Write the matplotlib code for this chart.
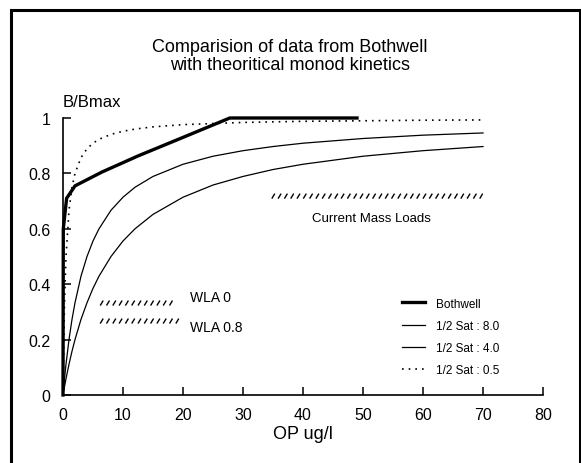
import matplotlib
matplotlib.use("Agg")
import matplotlib.pyplot as plt
from matplotlib.patches import Rectangle
from matplotlib.collections import LineCollection
import numpy as np

plt.rcParams['font.family'] = ['Liberation Sans Narrow', 'Liberation Sans', 'DejaVu Sans']

# ---- data ----
bothwell_x = [0, 0.05, 0.6, 2, 6.5, 12.5, 20, 27.8, 49]
bothwell_y = [0, 0.60, 0.71, 0.755, 0.805, 0.863, 0.93, 1.0, 1.0]

theory_x = [0, 0.25, 0.5, 1, 1.5, 2, 3, 4, 5, 6, 8, 10, 12, 15, 20, 25, 30, 35, 40, 50, 60, 70]
sat8_y = [0, 0.03, 0.059, 0.111, 0.158, 0.2, 0.273, 0.333, 0.385, 0.429, 0.5, 0.556, 0.6,
          0.652, 0.714, 0.758, 0.789, 0.814, 0.833, 0.862, 0.882, 0.897]
sat4_y = [0, 0.059, 0.111, 0.2, 0.273, 0.333, 0.429, 0.5, 0.556, 0.6, 0.667, 0.714, 0.75,
          0.789, 0.833, 0.862, 0.882, 0.897, 0.909, 0.926, 0.938, 0.946]
sat05_y = [0, 0.333, 0.5, 0.667, 0.75, 0.8, 0.857, 0.889, 0.909, 0.923, 0.941, 0.952, 0.96,
           0.968, 0.976, 0.98, 0.984, 0.986, 0.988, 0.99, 0.992, 0.993]

series_labels = ['Bothwell', '1/2 Sat : 8.0', '1/2 Sat : 4.0', '1/2 Sat : 0.5']

# hatched load bands: (x start, x end, y level)
band_names = ['WLA 0', 'WLA 0.8', 'Current Mass Loads']
band_x0 = [6.2, 6.2, 34.8]
band_x1 = [18.7, 19.8, 70]
band_y = [0.332, 0.267, 0.718]

x_ticks = [0, 10, 20, 30, 40, 50, 60, 70, 80]
y_ticks = [0, 0.2, 0.4, 0.6, 0.8, 1.0]
y_tick_labels = ['0', '0.2', '0.4', '0.6', '0.8', '1']

W, H = 581, 464
fig = plt.figure(figsize=(W / 100, H / 100), dpi=100)
ax = fig.add_axes([63 / W, 1 - 396 / H, 480 / W, 277 / H])
ax.set_xlim(0, 80)
ax.set_ylim(0, 1)

ax.plot(theory_x, sat8_y, color='black', lw=0.9, label=series_labels[1], clip_on=False)
ax.plot(theory_x, sat4_y, color='black', lw=0.9, label=series_labels[2], clip_on=False)
ax.plot(theory_x, sat05_y, color='black', lw=1.2, linestyle=(0, (1, 3)),
        label=series_labels[3], clip_on=False)
ax.plot(bothwell_x, bothwell_y, color='black', lw=2.4, label=series_labels[0],
        clip_on=False, solid_joinstyle='miter')

# hatch bands as short slash strokes
px_x = 80 / 480.0
px_y = 1 / 277.0
for x0, x1, yv in zip(band_x0, band_x1, band_y):
    xs = np.arange(x0, x1, 6.3 * px_x)
    segs = [[(xx, yv - 2.5 * px_y), (xx + 3 * px_x, yv + 2.5 * px_y)] for xx in xs]
    ax.add_collection(LineCollection(segs, colors='black', linewidths=1.0))

ax.text(127 * px_x, band_y[0] + 0.02, band_names[0], fontsize=10,
        ha='left', va='center')
ax.text(127 * px_x, band_y[1] - 0.022, band_names[1], fontsize=10,
        ha='left', va='center')
ax.text((band_x0[2] + band_x1[2]) / 2 - 1.0, band_y[2] - 0.078, band_names[2], fontsize=9.5,
        ha='center', va='center')

for s in ['top', 'right']:
    ax.spines[s].set_visible(False)
for s in ['left', 'bottom']:
    ax.spines[s].set_linewidth(1.2)
ax.set_xticks(x_ticks)
ax.set_yticks(y_ticks)
ax.set_yticklabels(y_tick_labels)
ax.tick_params(direction='in', length=6, width=1.1, labelsize=11.5, pad=9)

ax.text(0.06, 1.06, 'B/Bmax', transform=ax.transAxes, fontsize=12, ha='center', va='center')
ax.set_xlabel('OP ug/l', fontsize=13, labelpad=2)

handles, labels = ax.get_legend_handles_labels()
order = [3, 0, 1, 2]
leg = ax.legend([handles[i] for i in order], [labels[i] for i in order],
                loc='upper left', bbox_to_anchor=(391 / W, 1 - 288 / H),
                bbox_transform=fig.transFigure, frameon=False, fontsize=8.5,
                handlelength=2.0, handletextpad=0.9, labelspacing=0.85)

fig.text(290 / W, 1 - 48 / H, 'Comparision of data from Bothwell', ha='center', va='center',
         fontsize=13)
fig.text(290 / W, 1 - 66 / H, 'with theoritical monod kinetics', ha='center', va='center',
         fontsize=13)

fig.patches.append(Rectangle((11 / W, -0.1), 569 / W, 1.1 - 11 / H, transform=fig.transFigure,
                             fill=False, edgecolor='black', lw=2.2))

fig.savefig('out.png', dpi=100)
